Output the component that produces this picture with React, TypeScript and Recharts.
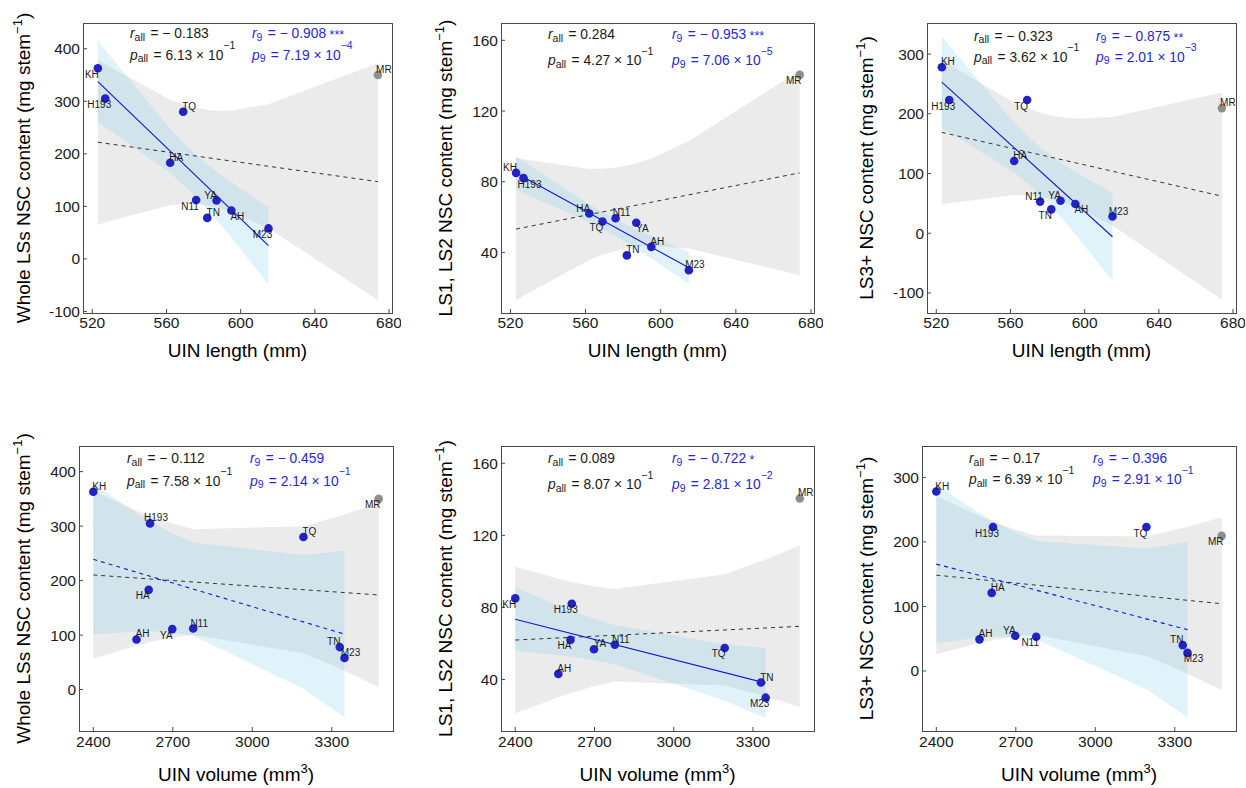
import React from 'react';
import { ComposedChart, XAxis, YAxis, Area, Line, Scatter } from 'recharts';

// ---------------- data ----------------
const genotypes = ['KH', 'H193', 'HA', 'TQ', 'N11', 'TN', 'YA', 'AH', 'M23', 'MR'];
const outlier = 'MR';
const uinLength = [523, 527, 562, 569, 576, 582, 587, 595, 615, 674];
const uinVolume = [2400, 2614, 2609, 3193, 2777, 3330, 2698, 2563, 3348, 3477];
const wholeNSC = [363, 305, 183, 280, 112, 78, 111, 92, 58, 350];
const ls12NSC = [85, 82, 62, 57.5, 59.3, 38.3, 56.8, 43.1, 29.9, 140.5];
const ls3NSC = [278, 223, 121, 223, 53, 40, 54.5, 49, 28, 209.5];

const lengthTicks = [520, 560, 600, 640, 680];
const volumeTicks = [2400, 2700, 3000, 3300];
const wholeTicks = [-100, 0, 100, 200, 300, 400];
const ls12Ticks = [40, 80, 120, 160];
const ls3LenTicks = [-100, 0, 100, 200, 300];
const wholeVolTicks = [0, 100, 200, 300, 400];
const ls3VolTicks = [0, 100, 200, 300];

// x positions where the confidence bands were evaluated
const lengthBandX = [523, 527, 562, 569, 576, 582, 587, 595, 615, 674];
const volumeBandX = [2400, 2563, 2609, 2614, 2698, 2777, 3193, 3330, 3348, 3477];
const lengthFitX = [523, 674];
const lengthFit9X = [523, 615];
const volumeFitX = [2400, 3477];
const volumeFit9X = [2400, 3348];

// panel 1: whole LSs vs length
const wlAllLo = [64.5, 69.6, 102.3, 104.4, 104.0, 101.7, 98.2, 90.0, 58.1, -78.4];
const wlAllHi = [379.5, 370.4, 302.9, 294.0, 287.4, 283.7, 282.2, 282.4, 294.5, 372.4];
const wlNineLo = [259.5, 250.6, 163.4, 141.4, 117.0, 94.3, 74.2, 40.6, -48.8];
const wlNineHi = [415.7, 397.4, 247.0, 221.4, 198.4, 180.3, 166.4, 145.8, 99.4];
const wlAllFit = [222.0, 147.0];
const wlNineFit = [337.6, 25.3];

// panel 2: LS1, LS2 vs length
const slAllLo = [12.8, 15.4, 35.7, 38.6, 40.8, 42.3, 43.1, 43.7, 42.2, 27.1];
const slAllHi = [93.7, 92.7, 87.2, 87.3, 88.0, 89.1, 90.3, 93.1, 103.0, 142.9];
const slNineLo = [75.4, 73.6, 57.1, 53.2, 49.1, 45.3, 42.0, 36.6, 22.3];
const slNineHi = [94.3, 91.4, 67.2, 62.9, 58.9, 55.7, 53.2, 49.3, 40.3];
const slAllFit = [53.2, 85.0];
const slNineFit = [84.9, 31.3];

// panel 3: LS3+ vs length
const tlAllLo = [47.7, 50.3, 64.2, 63.4, 60.9, 57.1, 52.9, 44.0, 12.9, -111.4];
const tlAllHi = [290.2, 281.9, 218.5, 209.4, 202.0, 197.3, 194.5, 192.0, 194.8, 235.6];
const tlNineLo = [175.4, 168.9, 101.8, 83.9, 63.6, 44.4, 27.2, -1.7, -79.3];
const tlNineHi = [330.3, 314.3, 184.6, 163.2, 144.1, 129.6, 118.6, 102.6, 67.6];
const tlAllFit = [168.9, 62.1];
const tlNineFit = [252.9, -5.8];

// panel 4: whole LSs vs volume
const wvAllLo = [56.4, 80.7, 86.5, 87.1, 95.5, 100.6, 66.5, 38.5, 34.5, 4.5];
const wvAllHi = [364.2, 328.7, 319.9, 318.9, 304.7, 294.2, 299.9, 318.7, 321.5, 342.7];
const wvNineLo = [101.0, 106.8, 107.1, 107.0, 104.8, 98.8, 1.7, -45.0, -51.3];
const wvNineHi = [377.0, 324.0, 310.5, 309.0, 287.0, 270.0, 246.9, 253.9, 254.9];
const wvAllFit = [210.3, 173.6];
const wvNineFit = [239.0, 101.8];

// panel 5: LS1, LS2 vs volume
const svAllLo = [21.1, 30.2, 32.5, 32.7, 36.3, 38.9, 36.6, 31.4, 30.6, 24.8];
const svAllHi = [102.6, 95.9, 94.3, 94.1, 91.7, 90.2, 98.4, 105.6, 106.6, 114.3];
const svNineLo = [55.9, 53.5, 52.7, 52.6, 50.7, 48.5, 28.2, 19.7, 18.6];
const svNineHi = [91.0, 81.1, 78.5, 78.3, 73.9, 70.2, 59.4, 57.7, 57.5];
const svAllFit = [61.9, 69.5];
const svNineFit = [73.4, 38.0];

// panel 6: LS3+ vs volume
const tvAllLo = [26.4, 43.4, 47.3, 47.7, 53.3, 56.2, 23.3, -0.9, -4.3, -30.0];
const tvAllHi = [270.6, 240.2, 232.5, 231.7, 219.2, 209.8, 208.5, 221.4, 223.3, 238.3];
const tvNineLo = [43.1, 51.7, 52.9, 52.9, 52.7, 49.2, -28.3, -66.7, -72.0];
const tvNineHi = [288.2, 244.7, 233.6, 232.5, 214.7, 201.3, 189.6, 198.7, 200.1];
const tvAllFit = [148.5, 104.2];
const tvNineFit = [165.6, 64.1];

// statistics text
const statsP1 = { rAll: '− 0.183', pAll: '6.13', pAllExp: '−1', r9: '− 0.908', stars: '***', p9: '7.19', p9Exp: '−4' };
const statsP2 = { rAll: '0.284', pAll: '4.27', pAllExp: '−1', r9: '− 0.953', stars: '***', p9: '7.06', p9Exp: '−5' };
const statsP3 = { rAll: '− 0.323', pAll: '3.62', pAllExp: '−1', r9: '− 0.875', stars: '**', p9: '2.01', p9Exp: '−3' };
const statsP4 = { rAll: '− 0.112', pAll: '7.58', pAllExp: '−1', r9: '− 0.459', stars: '', p9: '2.14', p9Exp: '−1' };
const statsP5 = { rAll: '0.089', pAll: '8.07', pAllExp: '−1', r9: '− 0.722', stars: '*', p9: '2.81', p9Exp: '−2' };
const statsP6 = { rAll: '− 0.17', pAll: '6.39', pAllExp: '−1', r9: '− 0.396', stars: '', p9: '2.91', p9Exp: '−1' };

// ---------------- styling ----------------
const FONT = '"Liberation Sans", Arial, Helvetica, sans-serif';
const BLUE_PT = '#2222c6';
const BLUE_LINE = '#1414d8';
const BLUE_TEXT = '#2626d8';
const GRAY_PT = '#8e8e8e';
const FRAME = '#4a4a4a';

type Dir = 'ul' | 'ur' | 'dl' | 'dr';
const dirOffset: Record<Dir, [number, number]> = { ul: [-6, -5.5], ur: [6, -5.5], dl: [-6, 6], dr: [6, 6] };

const p1Labels: Record<string, Dir> = { KH: 'dl', H193: 'dl', HA: 'ur', TQ: 'ur', N11: 'dl', TN: 'ur', YA: 'ul', AH: 'dr', M23: 'dl', MR: 'ur' };
const p2Labels: Record<string, Dir> = { KH: 'ul', H193: 'dr', HA: 'ul', TQ: 'dl', N11: 'ur', TN: 'ur', YA: 'dr', AH: 'ur', M23: 'ur', MR: 'dl' };
const p3Labels: Record<string, Dir> = { KH: 'ur', H193: 'dl', HA: 'ur', TQ: 'dl', N11: 'ul', TN: 'dl', YA: 'ul', AH: 'dr', M23: 'ur', MR: 'ur' };
const p4Labels: Record<string, Dir> = { KH: 'ur', H193: 'ur', HA: 'dl', TQ: 'ur', N11: 'ur', TN: 'ul', YA: 'dl', AH: 'ur', M23: 'ur', MR: 'dl' };
const p5Labels: Record<string, Dir> = { KH: 'dl', H193: 'dl', HA: 'dl', TQ: 'dl', N11: 'ur', TN: 'ur', YA: 'ur', AH: 'ur', M23: 'dl', MR: 'ur' };
const p6Labels: Record<string, Dir> = { KH: 'ur', H193: 'dl', HA: 'ur', TQ: 'dl', N11: 'dl', TN: 'ul', YA: 'ul', AH: 'ur', M23: 'dr', MR: 'dl' };

// ---------------- helpers ----------------
const band = (xs: number[], lo: number[], hi: number[]) => lo.map((l, i) => ({ x: xs[i], range: [l, hi[i]] }));
const fitLine = (xs: number[], ys: number[]) => xs.map((x, i) => ({ x, y: ys[i] }));
const points = (xs: number[], ys: number[]) => genotypes.map((g, i) => ({ name: g, x: xs[i], y: ys[i] }));

type Box = { l: number; t: number; r: number; b: number };

type PanelCfg = {
  box: Box;
  xDomain: [number, number];
  yDomain: [number, number];
  xTicks: number[];
  yTicks: number[];
  tickMarginX: number;
  allBand: any[];
  nineBand: any[];
  allFit: any[];
  nineFit: any[];
  nineDashed: boolean;
  pts: any[];
  labels: Record<string, Dir>;
  stats: any;
  statPos: { bx: number; blx: number; y1: number; y2: number };
  yTitle: string;
  yTitleX: number;
  xTitle: 'length' | 'volume';
};

const lenDomain: [number, number] = [515, 681.6];
const volDomain: [number, number] = [2346, 3531];

const panels: PanelCfg[] = [
  {
    box: { l: 83, t: 23, r: 392, b: 313 }, xDomain: lenDomain, yDomain: [-103, 449], xTicks: lengthTicks, yTicks: wholeTicks, tickMarginX: 8,
    allBand: band(lengthBandX, wlAllLo, wlAllHi), nineBand: band(lengthBandX, wlNineLo, wlNineHi),
    allFit: fitLine(lengthFitX, wlAllFit), nineFit: fitLine(lengthFit9X, wlNineFit), nineDashed: false,
    pts: points(uinLength, wholeNSC), labels: p1Labels, stats: statsP1, statPos: { bx: 130, blx: 252, y1: 38.3, y2: 59.5 },
    yTitle: 'Whole LSs NSC content (mg stem', yTitleX: 30, xTitle: 'length',
  },
  {
    box: { l: 501, t: 23, r: 814, b: 313 }, xDomain: lenDomain, yDomain: [5.7, 169.8], xTicks: lengthTicks, yTicks: ls12Ticks, tickMarginX: 8,
    allBand: band(lengthBandX, slAllLo, slAllHi), nineBand: band(lengthBandX, slNineLo, slNineHi),
    allFit: fitLine(lengthFitX, slAllFit), nineFit: fitLine(lengthFit9X, slNineFit), nineDashed: false,
    pts: points(uinLength, ls12NSC), labels: p2Labels, stats: statsP2, statPos: { bx: 548, blx: 672, y1: 39.3, y2: 65 },
    yTitle: 'LS1, LS2 NSC content (mg stem', yTitleX: 451.5, xTitle: 'length',
  },
  {
    box: { l: 927, t: 23, r: 1236, b: 313 }, xDomain: lenDomain, yDomain: [-133.5, 352], xTicks: lengthTicks, yTicks: ls3LenTicks, tickMarginX: 8,
    allBand: band(lengthBandX, tlAllLo, tlAllHi), nineBand: band(lengthBandX, tlNineLo, tlNineHi),
    allFit: fitLine(lengthFitX, tlAllFit), nineFit: fitLine(lengthFit9X, tlNineFit), nineDashed: false,
    pts: points(uinLength, ls3NSC), labels: p3Labels, stats: statsP3, statPos: { bx: 974, blx: 1096, y1: 40.5, y2: 61.7 },
    yTitle: 'LS3+ NSC content (mg stem', yTitleX: 872.5, xTitle: 'length',
  },
  {
    box: { l: 79, t: 446, r: 393, b: 731 }, xDomain: volDomain, yDomain: [-76, 447], xTicks: volumeTicks, yTicks: wholeVolTicks, tickMarginX: 9,
    allBand: band(volumeBandX, wvAllLo, wvAllHi), nineBand: band(volumeBandX, wvNineLo, wvNineHi),
    allFit: fitLine(volumeFitX, wvAllFit), nineFit: fitLine(volumeFit9X, wvNineFit), nineDashed: true,
    pts: points(uinVolume, wholeNSC), labels: p4Labels, stats: statsP4, statPos: { bx: 127, blx: 250, y1: 463.3, y2: 485.7 },
    yTitle: 'Whole LSs NSC content (mg stem', yTitleX: 30, xTitle: 'volume',
  },
  {
    box: { l: 501, t: 446, r: 814, b: 731 }, xDomain: volDomain, yDomain: [11.4, 169.6], xTicks: volumeTicks, yTicks: ls12Ticks, tickMarginX: 9,
    allBand: band(volumeBandX, svAllLo, svAllHi), nineBand: band(volumeBandX, svNineLo, svNineHi),
    allFit: fitLine(volumeFitX, svAllFit), nineFit: fitLine(volumeFit9X, svNineFit), nineDashed: false,
    pts: points(uinVolume, ls12NSC), labels: p5Labels, stats: statsP5, statPos: { bx: 548, blx: 672, y1: 463.3, y2: 489 },
    yTitle: 'LS1, LS2 NSC content (mg stem', yTitleX: 451.5, xTitle: 'volume',
  },
  {
    box: { l: 922, t: 446, r: 1236, b: 731 }, xDomain: volDomain, yDomain: [-93, 348.6], xTicks: volumeTicks, yTicks: ls3VolTicks, tickMarginX: 9,
    allBand: band(volumeBandX, tvAllLo, tvAllHi), nineBand: band(volumeBandX, tvNineLo, tvNineHi),
    allFit: fitLine(volumeFitX, tvAllFit), nineFit: fitLine(volumeFit9X, tvNineFit), nineDashed: true,
    pts: points(uinVolume, ls3NSC), labels: p6Labels, stats: statsP6, statPos: { bx: 969, blx: 1093, y1: 463.3, y2: 484.3 },
    yTitle: 'LS3+ NSC content (mg stem', yTitleX: 873, xTitle: 'volume',
  },
];

const tickStyle = { fontSize: 15.5, fill: '#1a1a1a', fontFamily: FONT };

const dotShape = (color: string) => (props: any) => (
  <circle cx={props.cx} cy={props.cy} r={4.3} fill={color} />
);

const labelShape = (placement: Record<string, Dir>) => (props: any) => {
  const name = props.payload?.name ?? props.name;
  const [dx, dy] = dirOffset[placement[name] || 'ur'];
  return (
    <text x={props.cx + dx} y={props.cy + dy} textAnchor="middle" dominantBaseline="central"
      fontSize={10} fontFamily={FONT} fill="#1a1a1a">{name}</text>
  );
};

function Panel({ cfg }: { cfg: PanelCfg }) {
  const yw = 50;
  const xh = 30;
  const extraRight = 9;
  const w = cfg.box.r - cfg.box.l + yw + extraRight;
  const h = cfg.box.b - cfg.box.t + xh;
  const nine = cfg.pts.filter((p) => p.name !== outlier);
  const out = cfg.pts.filter((p) => p.name === outlier);
  return (
    <div style={{ position: 'absolute', left: cfg.box.l - yw, top: cfg.box.t }}>
      <ComposedChart width={w} height={h} margin={{ top: 0, right: extraRight, bottom: 0, left: 0 }}>
        <XAxis type="number" dataKey="x" domain={cfg.xDomain} ticks={cfg.xTicks} interval={0}
          tickSize={-4} tickMargin={cfg.tickMarginX} axisLine={false} tickLine={{ stroke: FRAME }}
          tick={tickStyle} height={xh} />
        <YAxis type="number" domain={cfg.yDomain} ticks={cfg.yTicks} interval={0}
          tickSize={-4} tickMargin={7} axisLine={false} tickLine={{ stroke: FRAME }}
          tick={tickStyle} width={yw} />
        <Area data={cfg.allBand} dataKey="range" type="linear" stroke="none" fill="#999999" fillOpacity={0.2}
          isAnimationActive={false} dot={false} activeDot={false} />
        <Area data={cfg.nineBand} dataKey="range" type="linear" stroke="none" fill="#87CEEB" fillOpacity={0.25}
          isAnimationActive={false} dot={false} activeDot={false} />
        <Line data={cfg.allFit} dataKey="y" type="linear" stroke="#333333" strokeWidth={1} strokeDasharray="4 4"
          dot={false} activeDot={false} isAnimationActive={false} />
        <Line data={cfg.nineFit} dataKey="y" type="linear" stroke={BLUE_LINE} strokeWidth={1.1}
          strokeDasharray={cfg.nineDashed ? '4 4' : undefined}
          dot={false} activeDot={false} isAnimationActive={false} />
        <Scatter data={nine} dataKey="y" shape={dotShape(BLUE_PT)} isAnimationActive={false} />
        <Scatter data={out} dataKey="y" shape={dotShape(GRAY_PT)} isAnimationActive={false} />
        <Scatter data={cfg.pts} dataKey="y" shape={labelShape(cfg.labels)} isAnimationActive={false} />
      </ComposedChart>
    </div>
  );
}

function StatLine({ x, y, sym, sub, value, exp, stars, color }: any) {
  return (
    <text x={x} y={y} fill={color} fontSize={13.8} fontFamily={FONT}>
      <tspan fontStyle="italic">{sym}</tspan>
      <tspan fontSize={10.5} dy={2.5}>{sub}</tspan>
      <tspan dy={-2.5} dx={1.5}>{' = ' + value}</tspan>
      {exp ? <tspan>{' × 10'}</tspan> : null}
      {exp ? <tspan fontSize={10.5} dy={-10.5}>{exp}</tspan> : null}
      {stars ? <tspan fontSize={12.5} dy={1}>{' ' + stars}</tspan> : null}
    </text>
  );
}

function Overlay() {
  return (
    <svg width={1246} height={788} style={{ position: 'absolute', left: 0, top: 0, pointerEvents: 'none' }}>
      {panels.map((p, i) => {
        const { l, t, r, b } = p.box;
        const cx = (l + r) / 2;
        const cy = (t + b) / 2;
        const s = p.stats;
        const sp = p.statPos;
        const xTitleY = p.xTitle === 'length' ? b + 44 : b + 50;
        return (
          <g key={i}>
            <rect x={l + 0.5} y={t + 0.5} width={r - l} height={b - t} fill="none" stroke={FRAME} strokeWidth={1} />
            <StatLine x={sp.bx} y={sp.y1} sym="r" sub="all" value={s.rAll} color="#1a1a1a" />
            <StatLine x={sp.bx} y={sp.y2} sym="p" sub="all" value={s.pAll} exp={s.pAllExp} color="#1a1a1a" />
            <StatLine x={sp.blx} y={sp.y1} sym="r" sub="9" value={s.r9} stars={s.stars} color={BLUE_TEXT} />
            <StatLine x={sp.blx} y={sp.y2} sym="p" sub="9" value={s.p9} exp={s.p9Exp} color={BLUE_TEXT} />
            <text x={cx} y={xTitleY} textAnchor="middle" fontSize={19} fontFamily={FONT} fill="#000">
              {p.xTitle === 'length' ? (
                <tspan>UIN length (mm)</tspan>
              ) : (
                <>
                  <tspan>UIN volume (mm</tspan>
                  <tspan fontSize={13} dy={-8}>3</tspan>
                  <tspan dy={8}>)</tspan>
                </>
              )}
            </text>
            <text x={p.yTitleX} y={cy} textAnchor="middle" fontSize={19} fontFamily={FONT} fill="#000"
              transform={`rotate(-90 ${p.yTitleX} ${cy})`}>
              <tspan>{p.yTitle}</tspan>
              <tspan fontSize={13} dy={-8}>−1</tspan>
              <tspan dy={8}>)</tspan>
            </text>
          </g>
        );
      })}
    </svg>
  );
}

export default function App() {
  return (
    <div style={{ position: 'absolute', left: 0, top: 0, width: 1246, height: 788, background: '#fff', fontFamily: FONT, overflow: 'hidden' }}>
      {panels.map((p, i) => (
        <Panel key={i} cfg={p} />
      ))}
      <Overlay />
    </div>
  );
}
